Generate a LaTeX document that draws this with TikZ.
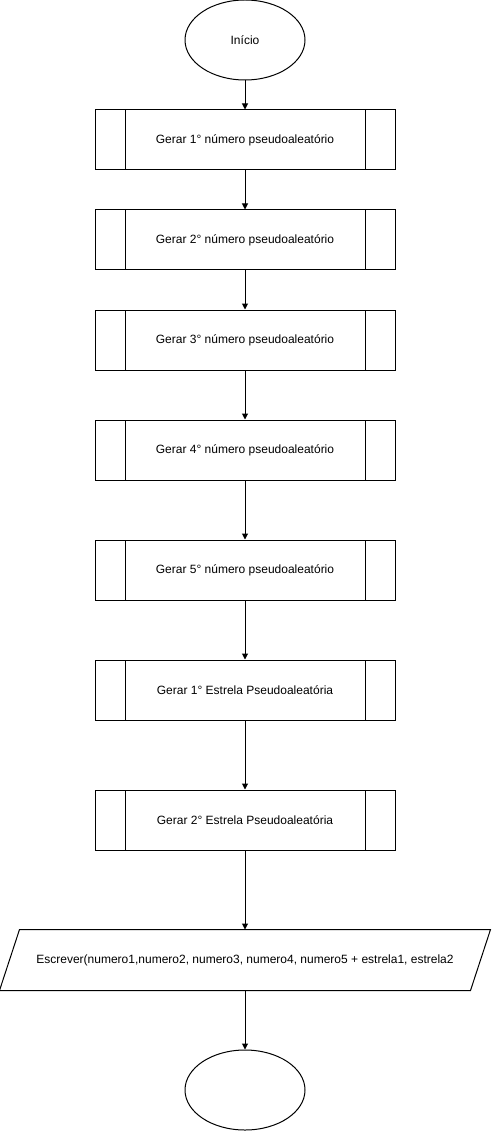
\documentclass[tikz,border=0pt]{standalone}
\usepackage{fontspec}
\setmainfont{Liberation Sans}
\usetikzlibrary{shapes.geometric,arrows.meta}

\begin{document}
\begin{tikzpicture}[x=1pt,y=-1pt,line width=1pt,font=\fontsize{12}{14}\selectfont,
   terminal/.style={draw,ellipse,minimum width=120pt,minimum height=80pt,inner sep=0pt},
   subproc/.style={draw,rectangle,minimum width=300pt,minimum height=60pt,inner sep=0pt,
      path picture={\draw ([xshift=30pt]path picture bounding box.north west)--([xshift=30pt]path picture bounding box.south west);
                    \draw ([xshift=-30pt]path picture bounding box.north east)--([xshift=-30pt]path picture bounding box.south east);}},
   io/.style={rectangle,minimum width=470pt,minimum height=60pt,inner sep=0pt},
   flow/.style={-{Triangle[length=6pt,width=6pt]}}]
   \useasboundingbox (0,0) rectangle (491,1131);
   \node[terminal] (start) at (245,40) {Início};
   \node[subproc] (num1) at (245,140) {Gerar 1° número pseudoaleatório};
   \node[subproc] (num2) at (245,240) {Gerar 2° número pseudoaleatório};
   \node[subproc] (num3) at (245,340) {Gerar 3° número pseudoaleatório};
   \node[subproc] (num4) at (245,450) {Gerar 4° número pseudoaleatório};
   \node[subproc] (num5) at (245,570) {Gerar 5° número pseudoaleatório};
   \node[subproc] (star1) at (245,690) {Gerar 1° Estrela Pseudoaleatória};
   \node[subproc] (star2) at (245,820) {Gerar 2° Estrela Pseudoaleatória};
   \node[io] (write) at (245,960) {Escrever(numero1,numero2, numero3, numero4, numero5 + estrela1, estrela2};
   \draw ([xshift=10pt]write.north west)--([xshift=10pt]write.north east)
      --([xshift=-10pt]write.south east)--([xshift=-10pt]write.south west)--cycle;
   \node[terminal] (stop) at (245,1090) {};
   \draw[flow] (start)--(num1);
   \draw[flow] (num1)--(num2);
   \draw[flow] (num2)--(num3);
   \draw[flow] (num3)--(num4);
   \draw[flow] (num4)--(num5);
   \draw[flow] (num5)--(star1);
   \draw[flow] (star1)--(star2);
   \draw[flow] (star2)--(write);
   \draw[flow] (write)--(stop);
\end{tikzpicture}
\end{document}
